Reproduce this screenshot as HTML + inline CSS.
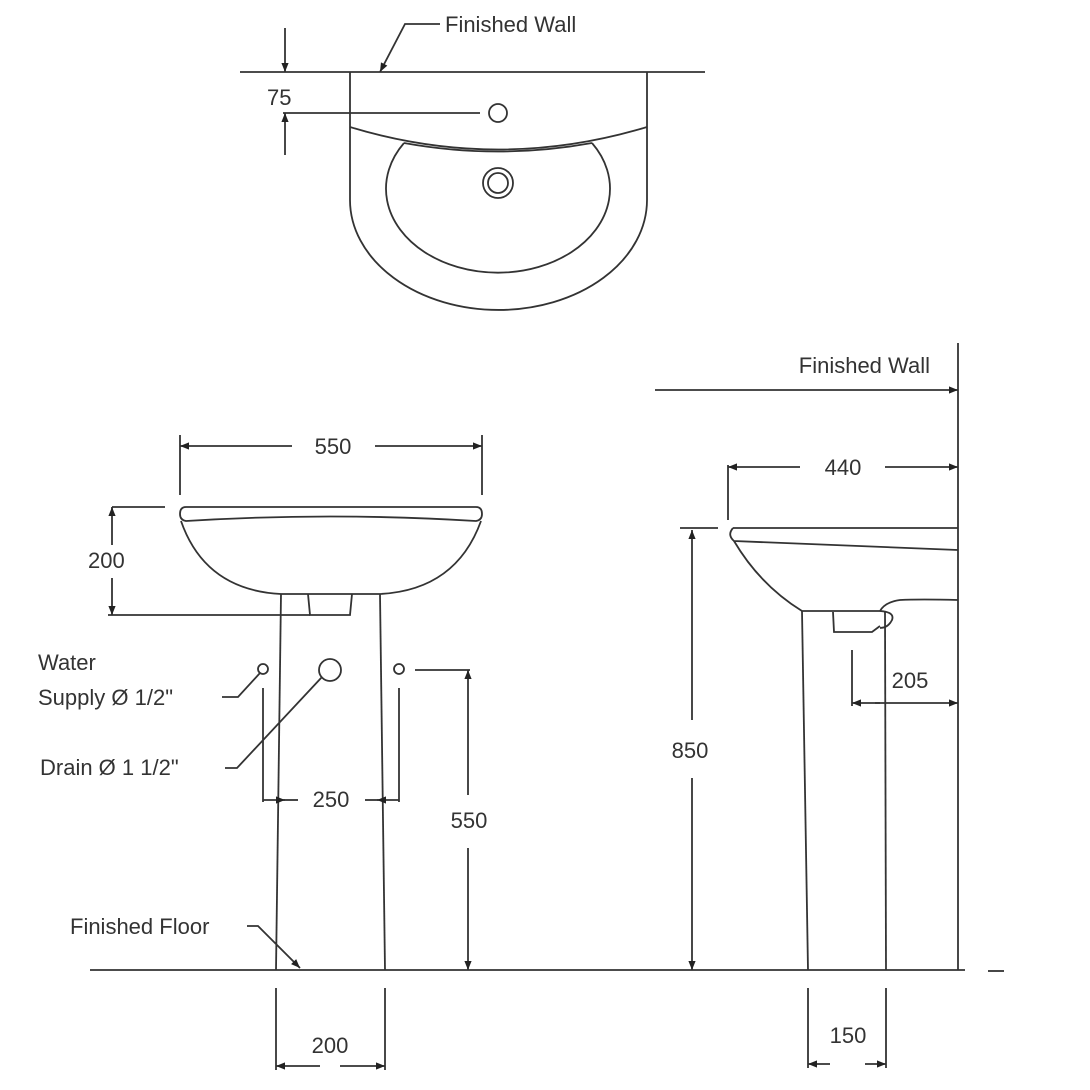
<!DOCTYPE html>
<html><head><meta charset="utf-8"><style>
html,body{margin:0;padding:0;background:#fff;}
svg{display:block;}
text{font-family:"Liberation Sans",sans-serif;font-size:22px;fill:#333;}
</style></head><body>
<svg width="1090" height="1090" viewBox="0 0 1090 1090" xmlns="http://www.w3.org/2000/svg">
<defs>
<marker id="a" viewBox="0 0 10 10" refX="10" refY="5" markerWidth="15" markerHeight="9" orient="auto" markerUnits="userSpaceOnUse"><path d="M0,1 L10,5 L0,9z" fill="#222"/></marker>
</defs>
<g fill="none" stroke="#333" stroke-width="1.8">
<!-- TOP VIEW -->
<line x1="240" y1="72" x2="705" y2="72"/>
<path d="M350,72 L350,200 A148.5,110 0 0 0 647,200 L647,72"/>
<path d="M350,127 Q498,172 647,127"/>
<path d="M404,143 Q498,160 592,143"/>
<path d="M404,143 A112,84 0 1 0 592,143"/>
<circle cx="498" cy="113" r="9"/>
<circle cx="498" cy="183" r="15"/>
<circle cx="498" cy="183" r="10"/>
<line x1="283" y1="113" x2="480" y2="113"/>
<line x1="285" y1="28" x2="285" y2="72" marker-end="url(#a)"/>
<line x1="285" y1="155" x2="285" y2="113" marker-end="url(#a)"/>
<polyline points="440,24 405,24 380,72" marker-end="url(#a)"/>
<!-- FRONT VIEW -->
<path d="M186,507 L476,507 Q482,507 482,514 Q482,520 476,521 Q330,512 186,521 Q180,520 180,514 Q180,507 186,507"/>
<path d="M181,521 Q205,590 281,594 L380,594 Q456,590 481,521"/>
<line x1="281" y1="594" x2="276" y2="970"/>
<line x1="380" y1="594" x2="385" y2="970"/>
<polyline points="308,594 310,615 350,615 352,594"/>
<line x1="108" y1="615" x2="310" y2="615"/>
<line x1="112" y1="507" x2="165" y2="507"/>
<line x1="112" y1="545" x2="112" y2="507" marker-end="url(#a)"/>
<line x1="112" y1="578" x2="112" y2="615" marker-end="url(#a)"/>
<line x1="180" y1="435" x2="180" y2="495"/>
<line x1="482" y1="435" x2="482" y2="495"/>
<line x1="292" y1="446" x2="180" y2="446" marker-end="url(#a)"/>
<line x1="375" y1="446" x2="482" y2="446" marker-end="url(#a)"/>
<circle cx="263" cy="669" r="5"/>
<circle cx="399" cy="669" r="5"/>
<circle cx="330" cy="670" r="11"/>
<line x1="263" y1="688" x2="263" y2="802"/>
<line x1="399" y1="688" x2="399" y2="802"/>
<line x1="263" y1="800" x2="285" y2="800" marker-end="url(#a)"/>
<line x1="298" y1="800" x2="283" y2="800"/>
<line x1="399" y1="800" x2="377" y2="800" marker-end="url(#a)"/>
<line x1="365" y1="800" x2="379" y2="800"/>
<polyline points="222,697 238,697 260,673"/>
<polyline points="225,768 237,768 322,677"/>
<line x1="415" y1="670" x2="470" y2="670"/>
<line x1="468" y1="795" x2="468" y2="670" marker-end="url(#a)"/>
<line x1="468" y1="848" x2="468" y2="970" marker-end="url(#a)"/>
<line x1="90" y1="970" x2="965" y2="970"/>
<line x1="988" y1="971" x2="1004" y2="971"/>
<polyline points="247,926 258,926 300,968" marker-end="url(#a)"/>
<line x1="276" y1="988" x2="276" y2="1070"/>
<line x1="385" y1="988" x2="385" y2="1070"/>
<line x1="320" y1="1066" x2="276" y2="1066" marker-end="url(#a)"/>
<line x1="340" y1="1066" x2="385" y2="1066" marker-end="url(#a)"/>
<!-- SIDE VIEW -->
<line x1="958" y1="343" x2="958" y2="970"/>
<line x1="655" y1="390" x2="958" y2="390" marker-end="url(#a)"/>
<line x1="728" y1="465" x2="728" y2="520"/>
<line x1="800" y1="467" x2="728" y2="467" marker-end="url(#a)"/>
<line x1="885" y1="467" x2="958" y2="467" marker-end="url(#a)"/>
<line x1="733" y1="528" x2="958" y2="528"/>
<path d="M733,528 Q727,535 734,541 L958,550"/>
<path d="M734,541 Q760,585 802,611 L880,611 Q885,602 900,600 Q920,599 958,600"/>
<polyline points="833,612 834,632 872,632 880,626"/>
<path d="M880,611 Q895,612 892,620 Q888,628 880,628"/>
<line x1="802" y1="611" x2="808" y2="970"/>
<line x1="885" y1="611" x2="886" y2="970"/>
<line x1="852" y1="650" x2="852" y2="706"/>
<line x1="880" y1="703" x2="852" y2="703" marker-end="url(#a)"/>
<line x1="875" y1="703" x2="958" y2="703" marker-end="url(#a)"/>
<line x1="680" y1="528" x2="718" y2="528"/>
<line x1="692" y1="720" x2="692" y2="530" marker-end="url(#a)"/>
<line x1="692" y1="778" x2="692" y2="970" marker-end="url(#a)"/>
<line x1="808" y1="988" x2="808" y2="1068"/>
<line x1="886" y1="988" x2="886" y2="1068"/>
<line x1="830" y1="1064" x2="808" y2="1064" marker-end="url(#a)"/>
<line x1="865" y1="1064" x2="886" y2="1064" marker-end="url(#a)"/>
</g>
<text x="445" y="32">Finished Wall</text>
<text x="267" y="105">75</text>
<text x="333" y="454" text-anchor="middle">550</text>
<text x="88" y="568">200</text>
<text x="38" y="670">Water</text>
<text x="38" y="705">Supply Ø 1/2"</text>
<text x="40" y="775">Drain Ø 1 1/2"</text>
<text x="331" y="807" text-anchor="middle">250</text>
<text x="469" y="828" text-anchor="middle">550</text>
<text x="70" y="934">Finished Floor</text>
<text x="330" y="1053" text-anchor="middle">200</text>
<text x="930" y="373" text-anchor="end">Finished Wall</text>
<text x="843" y="475" text-anchor="middle">440</text>
<text x="910" y="688" text-anchor="middle">205</text>
<text x="690" y="758" text-anchor="middle">850</text>
<text x="848" y="1043" text-anchor="middle">150</text>
</svg>
</body></html>
